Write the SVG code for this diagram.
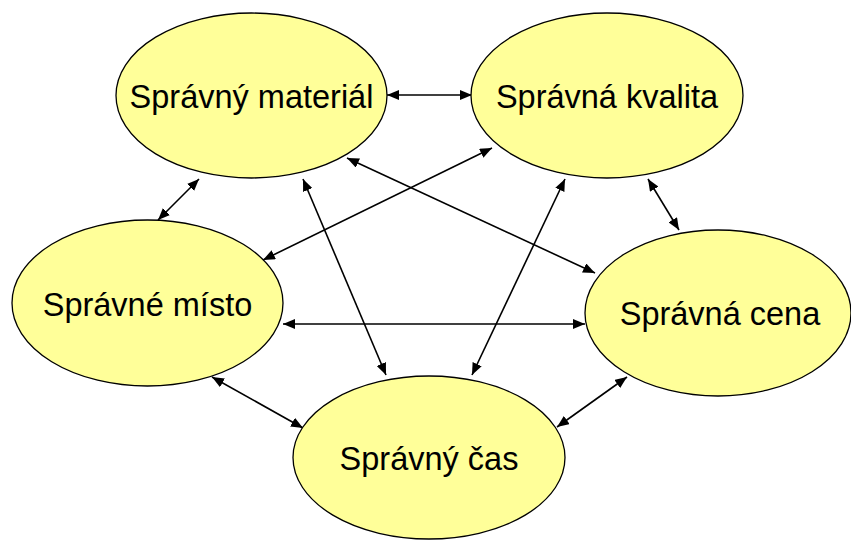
<svg xmlns="http://www.w3.org/2000/svg" width="851" height="540" viewBox="0 0 851 540">
<style>
.node ellipse{fill:#FFFF99;stroke:#000;stroke-width:1.3}
.node text{font-family:"Liberation Sans",Arial,sans-serif;font-size:32.5px;fill:#000;text-anchor:middle}
.edges line{stroke:#000;stroke-width:1.6;marker-start:url(#ah);marker-end:url(#ah)}
</style>
<defs>
<marker id="ah" viewBox="0 0 12 10" refX="12" refY="5" markerWidth="12" markerHeight="10" markerUnits="userSpaceOnUse" orient="auto-start-reverse">
<path d="M0,0 L12,5 L0,10 Z" fill="#000"/>
</marker>
</defs>
<rect width="851" height="540" fill="#fff"/>
<g class="edges">
<line x1="387" y1="95" x2="472" y2="95"/>
<line x1="199" y1="179" x2="158" y2="220"/>
<line x1="303" y1="179" x2="386" y2="375"/>
<line x1="347" y1="158" x2="595" y2="273"/>
<line x1="492" y1="148" x2="263" y2="260"/>
<line x1="565" y1="179" x2="472" y2="375"/>
<line x1="648" y1="179" x2="679" y2="230"/>
<line x1="283" y1="324" x2="585" y2="324"/>
<line x1="212" y1="377" x2="303" y2="428"/>
<line x1="627" y1="377" x2="557" y2="427"/>
</g>
<g id="material" class="node"><ellipse cx="251.5" cy="95.5" rx="135.5" ry="82.5"/><text x="251.5" y="108">Správný materiál</text></g>
<g id="kvalita" class="node"><ellipse cx="607" cy="95.5" rx="136" ry="82.5"/><text x="607" y="108">Správná kvalita</text></g>
<g id="misto" class="node"><ellipse cx="147.5" cy="303" rx="135.5" ry="83"/><text x="147.5" y="316">Správné místo</text></g>
<g id="cena" class="node"><ellipse cx="718" cy="313" rx="133" ry="83"/><text x="720" y="325">Správná cena</text></g>
<g id="cas" class="node"><ellipse cx="429" cy="457.5" rx="136" ry="81.5"/><text x="429" y="470">Správný čas</text></g>
</svg>
